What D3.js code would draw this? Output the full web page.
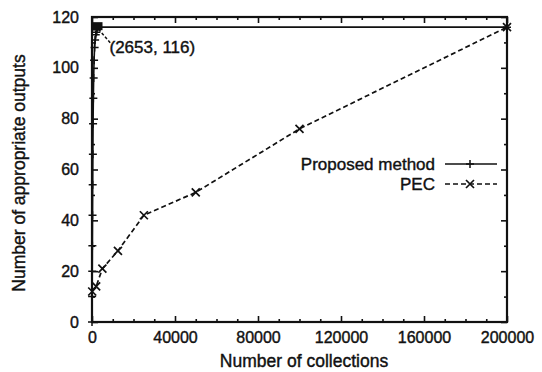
<!DOCTYPE html>
<html><head><meta charset="utf-8">
<script src="https://cdn.jsdelivr.net/npm/d3@7"></script>
<style>
body{margin:0;background:#fff;}
svg text{font-family:"Liberation Sans",Arial,sans-serif;fill:#111;stroke:#111;stroke-width:0.4px;}
</style>
</head><body>
<svg id="c" width="542" height="372"></svg>
<script>
// Data
const proposedX = [0, 60, 120, 180, 250, 330, 420, 520, 650, 800, 1000, 1250, 1500, 1800, 2100, 2400, 2653, 200000];
const proposedY = [0, 10, 20, 30, 42, 54, 66, 78, 88, 96, 103, 108, 111, 113, 114, 115, 116, 116];
const pecX = [100, 2000, 5000, 12500, 25000, 50000, 100000, 200000];
const pecY = [12, 14, 21, 28, 42, 51, 76, 116];
const xTicks = [0, 40000, 80000, 120000, 160000, 200000];
const yTicks = [0, 20, 40, 60, 80, 100, 120];
const seriesNames = ["Proposed method", "PEC"];
const annotation = {x: 2653, y: 116, label: "(2653, 116)"};

const svg = d3.select("#c");
const L = 92, R = 507, T = 17, B = 322;
const x = d3.scaleLinear().domain([0, 200000]).range([L, R]);
const y = d3.scaleLinear().domain([0, 120]).range([B, T]);

const xMinor = d3.range(0, 200001, 10000).filter(v => !xTicks.includes(v));
const yMinor = d3.range(0, 121, 10).filter(v => !yTicks.includes(v));

function styleAxis(g){
  g.select(".domain").remove();
  g.selectAll(".tick line").attr("stroke", "#111").attr("stroke-width", 1.6);
  g.selectAll(".tick text").attr("font-size", 16).attr("fill", "#111");
}
// bottom
svg.append("g").attr("transform", `translate(0,${B})`)
  .call(d3.axisBottom(x).tickValues(xTicks).tickSizeInner(-6).tickSizeOuter(0).tickPadding(10).tickFormat(d3.format("d")))
  .call(styleAxis);
svg.append("g").attr("transform", `translate(0,${B})`)
  .call(d3.axisBottom(x).tickValues(xMinor).tickSizeInner(-3).tickSizeOuter(0).tickFormat(""))
  .call(styleAxis);
// top
svg.append("g").attr("transform", `translate(0,${T})`)
  .call(d3.axisTop(x).tickValues(xTicks).tickSizeInner(-6).tickSizeOuter(0).tickFormat(""))
  .call(styleAxis);
svg.append("g").attr("transform", `translate(0,${T})`)
  .call(d3.axisTop(x).tickValues(xMinor).tickSizeInner(-3).tickSizeOuter(0).tickFormat(""))
  .call(styleAxis);
// left
svg.append("g").attr("transform", `translate(${L},0)`)
  .call(d3.axisLeft(y).tickValues(yTicks).tickSizeInner(-6).tickSizeOuter(0).tickPadding(13))
  .call(styleAxis);
svg.append("g").attr("transform", `translate(${L},0)`)
  .call(d3.axisLeft(y).tickValues(yMinor).tickSizeInner(-3).tickSizeOuter(0).tickFormat(""))
  .call(styleAxis);
// right
svg.append("g").attr("transform", `translate(${R},0)`)
  .call(d3.axisRight(y).tickValues(yTicks).tickSizeInner(-6).tickSizeOuter(0).tickFormat(""))
  .call(styleAxis);
svg.append("g").attr("transform", `translate(${R},0)`)
  .call(d3.axisRight(y).tickValues(yMinor).tickSizeInner(-3).tickSizeOuter(0).tickFormat(""))
  .call(styleAxis);

// frame
svg.append("rect").attr("x", L).attr("y", T).attr("width", R - L).attr("height", B - T)
  .attr("fill", "none").attr("stroke", "#111").attr("stroke-width", 2.2);

// axis titles
svg.append("text").attr("x", 304).attr("y", 367).attr("text-anchor", "middle")
  .attr("font-size", 17.5).text("Number of collections");
svg.append("text").attr("transform", `translate(25,173) rotate(-90)`)
  .attr("text-anchor", "middle").attr("font-size", 17.5).text("Number of appropriate outputs");

const line = d3.line().x(d => x(d[0])).y(d => y(d[1]));
const propData = proposedX.map((v, i) => [v, proposedY[i]]);
const pecData = pecX.map((v, i) => [v, pecY[i]]);

function plus(g, cx, cy, s){
  g.append("path").attr("d", `M${cx - s},${cy}H${cx + s}M${cx},${cy - s}V${cy + s}`)
    .attr("stroke", "#111").attr("stroke-width", 1.5).attr("fill", "none");
}
function cross(g, cx, cy, s){
  g.append("path").attr("d", `M${cx - s},${cy - s}L${cx + s},${cy + s}M${cx - s},${cy + s}L${cx + s},${cy - s}`)
    .attr("stroke", "#111").attr("stroke-width", 1.7).attr("fill", "none");
}

// Proposed method
svg.append("path").datum(propData).attr("d", line)
  .attr("fill", "none").attr("stroke", "#111").attr("stroke-width", 1.6);
const gp = svg.append("g");
propData.forEach(d => plus(gp, x(d[0]), y(d[1]), 4));
// dense cluster near annotation point (filled square)
svg.append("rect").attr("x", x(annotation.x) - 5).attr("y", y(annotation.y) - 5)
  .attr("width", 10).attr("height", 8).attr("fill", "#111");

// PEC
svg.append("path").datum(pecData).attr("d", line)
  .attr("fill", "none").attr("stroke", "#111").attr("stroke-width", 1.7).attr("stroke-dasharray", "5,3");
const gc = svg.append("g");
pecData.forEach(d => cross(gc, x(d[0]), y(d[1]), 4));

// annotation
svg.append("line").attr("x1", x(annotation.x) + 1).attr("y1", y(annotation.y) + 2)
  .attr("x2", x(annotation.x) + 13).attr("y2", y(annotation.y) + 16)
  .attr("stroke", "#111").attr("stroke-width", 1.5).attr("stroke-dasharray", "3,2");
svg.append("text").attr("x", x(annotation.x) + 12).attr("y", y(annotation.y) + 26)
  .attr("font-size", 17).text(annotation.label);

// legend
const lgX = 435, lgY = [164, 184];
seriesNames.forEach((n, i) => {
  svg.append("text").attr("x", lgX).attr("y", lgY[i]).attr("dy", "0.35em")
    .attr("text-anchor", "end").attr("font-size", 17).text(n);
  const l = svg.append("line").attr("x1", lgX + 10).attr("x2", lgX + 62)
    .attr("y1", lgY[i]).attr("y2", lgY[i]).attr("stroke", "#111").attr("stroke-width", 1.5);
  if (i === 0) plus(svg, lgX + 35, lgY[i], 4);
  else { l.attr("stroke-dasharray", "5,3"); cross(svg, lgX + 35, lgY[i], 4); }
});
</script>
</body></html>
